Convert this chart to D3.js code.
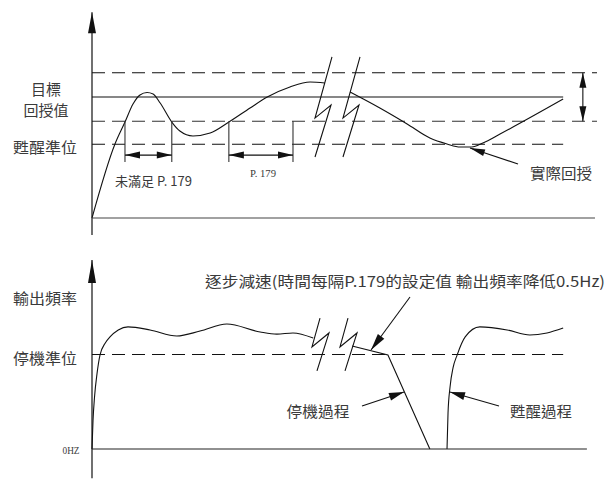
<!DOCTYPE html>
<html><head><meta charset="utf-8">
<script src="https://cdn.jsdelivr.net/npm/d3@7"></script>
<style>
body{margin:0;background:#fff;}
text{font-family:"Noto Sans CJK TC","Noto Sans CJK JP",sans-serif;fill:#3a3a3a;}
.lat{font-family:"Liberation Serif","DejaVu Serif",serif;}
</style></head>
<body><svg id="c" width="605" height="479"></svg>
<script>
// ---- data (time in arbitrary units 0..100, top: feedback % of target, bottom: output frequency %) ----
const feedbackBefore = [[0,0],[4.55,61.2],[6.53,79.3],[8.12,94.2],[9.5,101.7],[10.9,103.7],[12.1,102.5],[13.5,95],[15.8,79.3],[17.4,71.9],[20,67.8],[23.4,70.2],[27.1,79.3],[31.3,90.9],[34.7,100],[39.2,108.3],[43.2,112.4],[46.1,111.6]];
const feedbackAfter = [[51.1,104.1],[57.0,90.9],[62.4,77.7],[66.9,66.1],[70.3,61.2],[72.9,58.7],[75.2,58.7],[77.4,62.0],[80.8,69.4],[93.3,98.3]];
const targetLevel = 100, upperBand = 120, lowerBand = 80, wakeLevel = 61;
const bracketSpans = [[6.53,15.8,"未滿足 P. 179"],[27.1,39.8,"P. 179"]];
const freqBefore = [[0,0],[0.2,15],[0.5,27.5],[1.0,40],[1.58,49.7],[2.6,56],[3.56,59.3],[5.2,63],[7.13,64.6],[11.5,63],[16.8,59.8],[21.4,62.4],[26.7,66.1],[33.3,61.9],[36.6,60.8],[39.8,61.4],[43.8,58.7]];
const freqDecel = [[51.5,54.5],[58.6,49.7],[66.9,0]];
const freqWake = [[70.3,0],[70.5,19],[70.9,32.8],[71.5,43],[72.3,49.7],[73.9,59.3],[76.8,64.6],[82.2,63],[86.7,60.3],[90.1,61.4],[93.3,64]];
const stopLevel = 50;
const breakTopA = [[47.52,133.1],[44.16,82.6],[47.33,93.4],[44.16,50.4]];
const breakTopB = [[53.07,133.1],[49.70,82.6],[52.87,93.4],[49.70,50.4]];
const breakBotA = [[45.15,69.3],[43.56,54.0],[46.93,61.4],[44.55,41.3]];
const breakBotB = [[50.69,69.3],[49.11,54.0],[52.48,61.4],[50.10,41.3]];

const svg = d3.select("#c");
const x = d3.scaleLinear().domain([0,100]).range([92,597]);
const yT = d3.scaleLinear().domain([0,100]).range([218,97]);
const yB = d3.scaleLinear().domain([0,100]).range([449,260]);

const line = (ys, curve) => d3.line().x(d=>x(d[0])).y(d=>ys(d[1])).curve(curve||d3.curveLinear);
const g = svg.append("g");

function hline(y, x1, x2, dashed, col){
  g.append("line").attr("x1",x1).attr("x2",x2).attr("y1",y).attr("y2",y)
   .attr("stroke",col||"#111").attr("stroke-width",1.1)
   .attr("stroke-dasharray",dashed?"13,7":null);
}
function arrowHead(tx,ty,fx,fy,len,hw){
  const dx=tx-fx, dy=ty-fy, L=Math.hypot(dx,dy), ux=dx/L, uy=dy/L;
  const bx=tx-ux*len, by=ty-uy*len;
  g.append("path").attr("d",`M${tx},${ty}L${bx-uy*hw},${by+ux*hw}L${bx+uy*hw},${by-ux*hw}Z`).attr("fill","#111");
}
function arrow(fx,fy,tx,ty,len,hw){
  g.append("line").attr("x1",fx).attr("y1",fy).attr("x2",tx).attr("y2",ty).attr("stroke","#111").attr("stroke-width",1.1);
  arrowHead(tx,ty,fx,fy,len||15,hw||3.5);
}

// ---------- TOP PANEL ----------
hline(yT(upperBand), x(0), x(100), true);
hline(yT(lowerBand), x(0), x(100), true, "#333");
hline(yT(wakeLevel), x(0), x(93.3), true);
hline(yT(targetLevel), x(0), x(93.3), false);
g.append("path").datum(feedbackBefore).attr("d",line(yT,d3.curveMonotoneX)).attr("fill","none").attr("stroke","#111").attr("stroke-width",1.1);
g.append("path").datum(feedbackAfter).attr("d",line(yT,d3.curveMonotoneX)).attr("fill","none").attr("stroke","#111").attr("stroke-width",1.1);
// break mask
g.append("path").datum(breakTopA.concat(breakTopB.slice().reverse())).attr("d",line(yT)+"Z").attr("fill","#fff");
[breakTopA,breakTopB].forEach(b=>g.append("path").datum(b).attr("d",line(yT)).attr("fill","none").attr("stroke","#111").attr("stroke-width",1.1));
// axes
g.append("line").attr("x1",x(0)).attr("x2",x(0)).attr("y1",yT(170)).attr("y2",yT(-14)).attr("stroke","#111").attr("stroke-width",1.2);
arrowHead(x(0),yT(170),x(0),yT(0),21,4);
hline(yT(0), x(0), x(99.6), false, "#444");
// brackets
bracketSpans.forEach(s=>{
  [s[0],s[1]].forEach(t=>g.append("line").attr("x1",x(t)).attr("x2",x(t)).attr("y1",yT(lowerBand)).attr("y2",yT(46.3)).attr("stroke","#333").attr("stroke-width",1.1));
  const ya=yT(52);
  g.append("line").attr("x1",x(s[0])).attr("x2",x(s[1])).attr("y1",ya).attr("y2",ya).attr("stroke","#111").attr("stroke-width",1.1);
  arrowHead(x(s[0]),ya,x(s[1]),ya,15,3.5);
  arrowHead(x(s[1]),ya,x(s[0]),ya,15,3.5);
});
// double arrow on band
{
  const xa=x(97.2), y1=yT(upperBand), y2=yT(lowerBand);
  g.append("line").attr("x1",xa).attr("x2",xa).attr("y1",y1).attr("y2",y2).attr("stroke","#111").attr("stroke-width",1.1);
  arrowHead(xa,y1,xa,y2,15,3.5); arrowHead(xa,y2,xa,y1,15,3.5);
}
arrow(518,164,470,148,15,3.5);

// ---------- BOTTOM PANEL ----------
hline(yB(stopLevel), x(0), x(93.3), true);
g.append("path").datum(freqBefore).attr("d",line(yB,d3.curveMonotoneX)).attr("fill","none").attr("stroke","#111").attr("stroke-width",1.1);
g.append("path").datum(breakBotA.concat(breakBotB.slice().reverse())).attr("d",line(yB)+"Z").attr("fill","#fff");
g.append("path").datum(freqDecel).attr("d",line(yB)).attr("fill","none").attr("stroke","#111").attr("stroke-width",1.1);
g.append("path").datum(freqWake).attr("d",line(yB,d3.curveMonotoneX)).attr("fill","none").attr("stroke","#111").attr("stroke-width",1.1);
[breakBotA,breakBotB].forEach(b=>g.append("path").datum(b).attr("d",line(yB)).attr("fill","none").attr("stroke","#111").attr("stroke-width",1.1));
g.append("line").attr("x1",x(0)).attr("x2",x(0)).attr("y1",yB(100)).attr("y2",yB(-15.5)).attr("stroke","#111").attr("stroke-width",1.2);
arrowHead(x(0),yB(100),x(0),yB(0),23,4);
hline(yB(0), x(0), x(98), false, "#222");
arrow(410,297,371,350,17,4);
arrow(362,406,404,392,15,4);
arrow(499,406,450,392,15,4);

// ---------- TEXT ----------
function txt(s,xp,yp,size,anchor,cls,len){
  const t=g.append("text").attr("x",xp).attr("y",yp).attr("font-size",size).attr("text-anchor",anchor||"middle")
   .attr("dominant-baseline","central").text(s);
  if(cls) t.attr("class",cls);
  if(len) t.attr("textLength",len).attr("lengthAdjust","spacingAndGlyphs");
  return t;
}
txt("目標",46,88,15);
txt("回授值",46,109,15);
txt("甦醒準位",45,146,15,"middle",null,64);
txt("實際回授",561,172,15,"middle",null,62);
txt(bracketSpans[0][2],115,180,13,"start",null,77);
txt(bracketSpans[1][2],263,173,11,"middle","lat",26);
txt("輸出頻率",45,297,15,"middle",null,64);
txt("停機準位",45,357,15,"middle",null,64);
txt("0HZ",71,450,10,"middle","lat",17);
txt("逐步減速(時間每隔P.179的設定值 輸出頻率降低0.5Hz)",205,280,15,"start",null,400);
txt("停機過程",318,410,15,"middle",null,63);
txt("甦醒過程",541,410,15,"middle",null,62);
</script></body></html>
